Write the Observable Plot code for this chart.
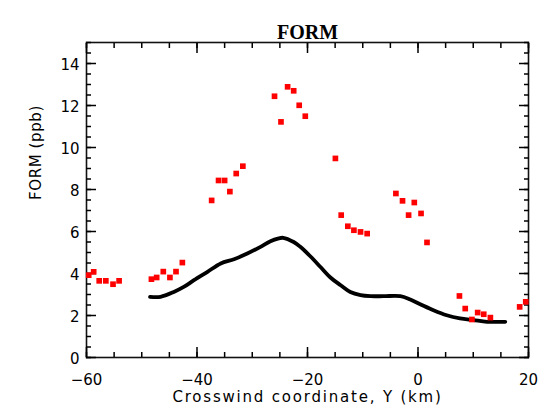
<!DOCTYPE html>
<html><head><meta charset="utf-8">
<script src="https://cdn.jsdelivr.net/npm/d3@7"></script>
<script src="https://cdn.jsdelivr.net/npm/@observablehq/plot@0.6"></script>
<style>body{margin:0;background:#fff} svg{display:block}</style>
</head><body><div id="chart"></div>
<script>
const title = "FORM";
const xLabel = "Crosswind coordinate, Y (km)";
const yLabel = "FORM (ppb)";

// observed (red squares)
const obsX = [-59.6, -58.7, -57.7, -56.5, -55.2, -54.1,
  -48.25, -47.3, -46.1, -44.9, -43.8, -42.65,
  -37.35, -36.1, -35.0, -34.05, -32.9, -31.7,
  -25.97, -24.8, -23.6, -22.5, -21.5, -20.4,
  -14.95, -13.9, -12.7, -11.6, -10.4, -9.2,
  -4.0, -2.8, -1.7, -0.67, 0.55, 1.63,
  7.5, 8.55, 9.76, 10.8, 11.9, 13.1, 18.4, 19.5];
const obsY = [3.92, 4.08, 3.65, 3.65, 3.49, 3.65,
  3.73, 3.81, 4.09, 3.81, 4.09, 4.52,
  7.48, 8.43, 8.43, 7.90, 8.76, 9.11,
  12.44, 11.22, 12.89, 12.70, 12.01, 11.49,
  9.48, 6.78, 6.25, 6.06, 5.98, 5.90,
  7.81, 7.46, 6.78, 7.38, 6.86, 5.48,
  2.93, 2.33, 1.81, 2.14, 2.06, 1.90, 2.41, 2.65];

// model (black line)
const modelX = [-48.5, -46.6, -44.2, -42.4, -40.55, -38.1, -35.7, -33.3, -30.9, -28.5, -26.7, -25.2, -24.4,
  -22.5, -21.3, -19.5, -17.65, -15.85, -14.0, -12.25, -10.4, -8.6, -6.2, -3.2, -1.4, 0.4, 2.8, 5.2, 7.6, 10.05, 12.5, 15.8];
const modelY = [2.89, 2.89, 3.12, 3.36, 3.68, 4.08, 4.48, 4.68, 4.95, 5.27, 5.54, 5.67, 5.70,
  5.50, 5.27, 4.82, 4.31, 3.81, 3.44, 3.12, 2.97, 2.92, 2.92, 2.92, 2.76, 2.54, 2.25, 2.01, 1.86, 1.78, 1.70, 1.70];

const xMajorTicks = [-60, -40, -20, 0, 20];
const xMinorTicks = [-60, -55, -50, -45, -40, -35, -30, -25, -20, -15, -10, -5, 0, 5, 10, 15, 20];
const yMajorTicks = [0, 2, 4, 6, 8, 10, 12, 14];
const yMinorTicks = [0, 0.5, 1, 1.5, 2, 2.5, 3, 3.5, 4, 4.5, 5, 5.5, 6, 6.5, 7, 7.5, 8, 8.5, 9, 9.5, 10, 10.5, 11, 11.5, 12, 12.5, 13, 13.5, 14, 14.5, 15];

const obs = obsX.map((x, i) => ({x, y: obsY[i]}));
const model = modelX.map((x, i) => ({x, y: modelY[i]}));

const tickAxes = [];
for (const a of ["bottom", "top"]) {
  tickAxes.push(Plot.axisX({anchor: a, ticks: xMinorTicks, tickSize: -5, fill: "none", label: null, strokeWidth: 1.5}));
  tickAxes.push(Plot.axisX({anchor: a, ticks: xMajorTicks, tickSize: -10, fill: "none", label: null, strokeWidth: 1.5}));
}
for (const a of ["left", "right"]) {
  tickAxes.push(Plot.axisY({anchor: a, ticks: yMinorTicks, tickSize: -5, fill: "none", label: null, strokeWidth: 1.5}));
  tickAxes.push(Plot.axisY({anchor: a, ticks: yMajorTicks, tickSize: -10, fill: "none", label: null, strokeWidth: 1.5}));
}

const chart = Plot.plot({
  width: 540,
  height: 413,
  marginLeft: 86,
  marginRight: 12,
  marginTop: 42,
  marginBottom: 56,
  x: {domain: [-60, 20]},
  y: {domain: [0, 15]},
  style: {fontFamily: "DejaVu Sans", fontSize: "15px", background: "white", color: "black"},
  marks: [
    Plot.frame({stroke: "#111", strokeWidth: 1.6}),
    ...tickAxes,
    Plot.axisX({anchor: "bottom", ticks: xMajorTicks, tickSize: 0, tickPadding: 17, label: null}),
    Plot.axisY({anchor: "left", ticks: yMajorTicks, tickSize: 0, tickPadding: 7, dy: 2, label: null}),
    Plot.line(model, {x: "x", y: "y", stroke: "black", strokeWidth: 3.8, curve: "catmull-rom"}),
    Plot.dot(obs, {x: "x", y: "y", symbol: "square", r: 3.2, fill: "#ff0000"}),
    Plot.text([title], {frameAnchor: "top", dy: -18, fontFamily: "Liberation Serif", fontWeight: "bold", fontSize: 20}),
    Plot.text([xLabel], {frameAnchor: "bottom", dy: 44, fontSize: 15}),
    Plot.text([yLabel], {frameAnchor: "left", dx: -50, rotate: -90, fontSize: 15})
  ]
});
for (const t of chart.querySelectorAll("text")) {
  if (t.textContent === xLabel) t.style.letterSpacing = "1.8px";
  if (t.textContent === yLabel) t.style.letterSpacing = "0.6px";
}
document.getElementById("chart").append(chart);
</script>
</body></html>
